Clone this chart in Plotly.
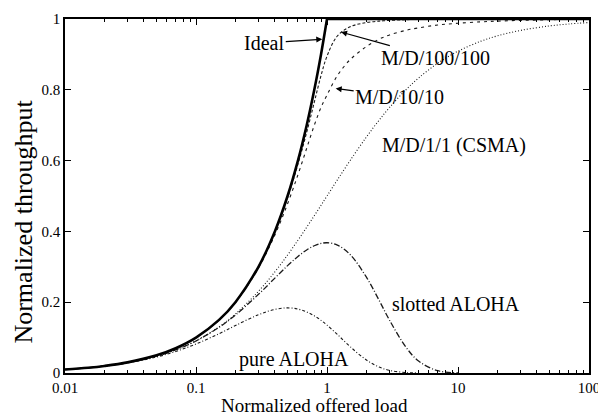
import numpy as np
import plotly.graph_objects as go

# ---- data ----
load = [0.01, 0.015, 0.02, 0.03, 0.05, 0.07, 0.1, 0.15, 0.2, 0.3, 0.4, 0.5, 0.6, 0.7,
        0.8, 0.9, 1, 1.2, 1.5, 2, 2.5, 3, 4, 5, 7, 10, 15, 20, 30, 50, 70, 100]

ideal_load = [0.01, 0.015, 0.02, 0.03, 0.05, 0.07, 0.1, 0.15, 0.2, 0.3, 0.4, 0.5, 0.6, 0.7,
              0.8, 0.9, 1]
ideal = [0.01, 0.015, 0.02, 0.03, 0.05, 0.07, 0.1, 0.15, 0.2, 0.3, 0.4, 0.5, 0.6, 0.7,
         0.8, 0.9, 1]
ideal_sat_load = [1, 100]
ideal_sat = [1, 1]

md100 = [0.01, 0.015, 0.02, 0.03, 0.05, 0.07, 0.1, 0.15, 0.2, 0.3, 0.4, 0.495, 0.59, 0.68,
         0.765, 0.84, 0.895, 0.952, 0.978, 0.99, 0.994, 0.996, 0.998, 0.999, 1, 1, 1, 1, 1, 1, 1, 1]

md10 = [0.01, 0.015, 0.02, 0.03, 0.05, 0.07, 0.1, 0.15, 0.199, 0.297, 0.39, 0.478, 0.56, 0.635,
        0.70, 0.75, 0.785, 0.84, 0.885, 0.922, 0.943, 0.955, 0.968, 0.975, 0.983, 0.988,
        0.992, 0.994, 0.996, 0.998, 0.999, 0.999]

csma = [0.0099, 0.0148, 0.0196, 0.0291, 0.0476, 0.0654, 0.0909, 0.1304, 0.1667, 0.2308, 0.2857,
        0.3333, 0.375, 0.4118, 0.4444, 0.4737, 0.5, 0.5455, 0.6, 0.6667, 0.7143, 0.75, 0.8,
        0.8333, 0.875, 0.909, 0.9375, 0.9524, 0.9677, 0.9804, 0.9859, 0.9901]

slotted_load = [0.01, 0.015, 0.02, 0.03, 0.05, 0.07, 0.1, 0.15, 0.2, 0.3, 0.4, 0.5, 0.6, 0.7,
                0.8, 0.9, 1, 1.2, 1.5, 2, 2.5, 3, 4, 5, 7, 10]
slotted = [0.0099, 0.0148, 0.0196, 0.0291, 0.0476, 0.0653, 0.0905, 0.1291, 0.1637, 0.2222,
           0.2681, 0.3033, 0.3293, 0.3476, 0.3595, 0.3659, 0.3679, 0.3614, 0.3347, 0.2707,
           0.2052, 0.1494, 0.0733, 0.0337, 0.0064, 0.0005]

pure_load = [0.01, 0.015, 0.02, 0.03, 0.05, 0.07, 0.1, 0.15, 0.2, 0.3, 0.4, 0.5, 0.6, 0.7,
             0.8, 0.9, 1, 1.2, 1.5, 2, 2.5, 3, 4, 5]
pure = [0.0098, 0.0146, 0.0192, 0.0283, 0.0452, 0.0608, 0.0819, 0.1111, 0.1341, 0.1646,
        0.1797, 0.1839, 0.1807, 0.1726, 0.1615, 0.1488, 0.1353, 0.1089, 0.0747, 0.0366,
        0.0168, 0.0074, 0.0013, 0.0002]

x_ticks = [0.01, 0.1, 1, 10, 100]
x_tick_text = ["0.01", "0.1", "1", "10", "100"]
x_minor = [m * d for d in [0.01, 0.1, 1, 10] for m in range(2, 10)]
y_ticks = [0, 0.2, 0.4, 0.6, 0.8, 1]
y_tick_text = ["0", "0.2", "0.4", "0.6", "0.8", "1"]

FONT = "Liberation Serif, Times New Roman, DejaVu Serif, serif"
LC = "#1a1a1a"

fig = go.Figure()
fig.add_trace(go.Scatter(x=load, y=csma, mode="lines",
                         line=dict(color=LC, width=1.1, dash="1px,2px", shape="spline")))
fig.add_trace(go.Scatter(x=load, y=md10, mode="lines",
                         line=dict(color=LC, width=1.1, dash="3px,4px", shape="spline")))
fig.add_trace(go.Scatter(x=load, y=md100, mode="lines",
                         line=dict(color=LC, width=1.1, dash="3px,2px", shape="spline")))
fig.add_trace(go.Scatter(x=slotted_load, y=slotted, mode="lines",
                         line=dict(color=LC, width=1.3, dash="6px,2px,1px,2px", shape="spline")))
fig.add_trace(go.Scatter(x=pure_load, y=pure, mode="lines",
                         line=dict(color=LC, width=1.1, dash="3px,2px,1px,2px", shape="spline")))
fig.add_trace(go.Scatter(x=ideal_load, y=ideal, mode="lines",
                         line=dict(color="black", width=2.6, shape="spline")))
fig.add_trace(go.Scatter(x=ideal_sat_load, y=ideal_sat, mode="lines",
                         line=dict(color="black", width=2.6)))

annots = [
    dict(text="Ideal", x=np.log10(0.92), y=0.943, ax=-58, ay=4, showarrow=True),
    dict(text="M/D/100/100", x=np.log10(1.28), y=0.963, ax=94, ay=26, showarrow=True),
    dict(text="M/D/10/10", x=np.log10(1.165), y=0.804, ax=64, ay=9, showarrow=True),
    dict(text="M/D/1/1 (CSMA)", x=np.log10(9.32), y=0.644, showarrow=False),
    dict(text="slotted ALOHA", x=np.log10(9.73), y=0.195, showarrow=False),
    dict(text="pure ALOHA", x=np.log10(0.555), y=0.037, showarrow=False),
]
for a in annots:
    a.update(xref="x", yref="y", font=dict(family=FONT, size=20, color="black"),
             xanchor="center", yanchor="middle",
             arrowhead=2, arrowsize=1, arrowwidth=1.2, arrowcolor="black")
    fig.add_annotation(**a)

# axis titles placed as paper annotations
fig.add_annotation(text="Normalized offered load", xref="paper", yref="paper",
                   x=0.476, y=-0.0918, showarrow=False, xanchor="center", yanchor="middle",
                   font=dict(family=FONT, size=19, color="black"))
fig.add_annotation(text="Normalized throughput", xref="paper", yref="paper",
                   x=-0.080, y=0.428, showarrow=False, textangle=-90,
                   xanchor="center", yanchor="middle",
                   font=dict(family=FONT, size=26, color="black"))

axis_common = dict(showline=True, linecolor="black", linewidth=1.5, mirror="allticks",
                   ticks="inside", ticklen=6, tickcolor="black", showgrid=False, zeroline=False,
                   automargin=False,
                   tickfont=dict(family=FONT, size=15, color="black"))

fig.update_xaxes(type="log", range=[-2, 2], tickmode="array", tickvals=x_ticks,
                 ticktext=x_tick_text,
                 minor=dict(ticks="inside", ticklen=3, tickcolor="black", tickvals=x_minor),
                 **axis_common)
fig.update_yaxes(range=[0, 1], tickmode="array", tickvals=y_ticks, ticktext=y_tick_text,
                 **axis_common)

# the page body adds an 8px offset, so the figure is 8px smaller and margins shifted
fig.update_layout(width=598, height=408, margin=dict(l=57, r=17, t=11, b=43),
                  plot_bgcolor="white", paper_bgcolor="white", showlegend=False)

fig.write_html("out.html")
